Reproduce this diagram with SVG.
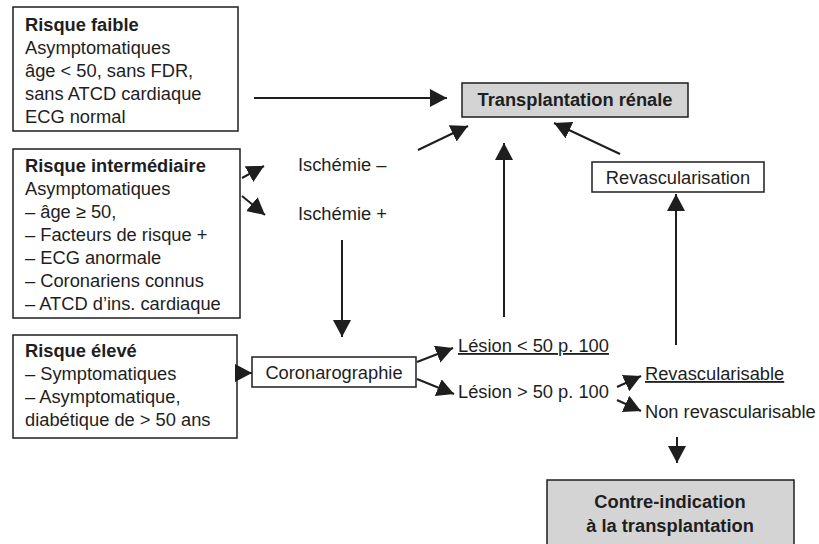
<svg xmlns="http://www.w3.org/2000/svg" width="819" height="544" viewBox="0 0 819 544">
<defs>
<style>
text{font-family:"Liberation Sans",Arial,sans-serif;font-size:18.3px;fill:#1e1e1e}
.b{font-weight:bold}
.c{text-anchor:middle}
.u{text-decoration:underline}
.box{fill:#fff;stroke:#1e1e1e;stroke-width:1.5}
.grey{fill:#d4d4d4;stroke:#1e1e1e;stroke-width:1.5}
.ln{stroke:#1e1e1e;stroke-width:2;fill:none;marker-end:url(#ah)}
</style>
<marker id="ah" markerUnits="userSpaceOnUse" markerWidth="18" markerHeight="19" refX="17" refY="9" orient="auto">
<path d="M0,0 L17,9 L0,18 z" fill="#1e1e1e"/>
</marker>
</defs>
<rect width="819" height="544" fill="#fff"/>
<g id="risque-faible">
<rect class="box" x="13" y="7" width="225" height="124"/>
<text x="25" y="31" class="b">Risque faible</text>
<text x="25" y="54">Asymptomatiques</text>
<text x="25" y="77">âge &lt; 50, sans FDR,</text>
<text x="25" y="100">sans ATCD cardiaque</text>
<text x="25" y="123">ECG normal</text>
</g>
<g id="risque-intermediaire">
<rect class="box" x="13" y="149" width="227" height="169"/>
<text x="25" y="172" class="b">Risque intermédiaire</text>
<text x="25" y="195">Asymptomatiques</text>
<text x="25" y="218">– âge ≥ 50,</text>
<text x="25" y="241">– Facteurs de risque +</text>
<text x="25" y="264">– ECG anormale</text>
<text x="25" y="287">– Coronariens connus</text>
<text x="25" y="310">– ATCD d’ins. cardiaque</text>
</g>
<g id="risque-eleve">
<rect class="box" x="13" y="335" width="224" height="103"/>
<text x="25" y="357" class="b">Risque élevé</text>
<text x="25" y="380">– Symptomatiques</text>
<text x="25" y="403">– Asymptomatique,</text>
<text x="25" y="426">diabétique de &gt; 50 ans</text>
</g>
<g id="transplantation">
<rect class="grey" x="462" y="83" width="226" height="34"/>
<text x="575" y="106" class="b c">Transplantation rénale</text>
</g>
<g id="ischemie-moins"><text x="298" y="171">Ischémie –</text></g>
<g id="ischemie-plus"><text x="298" y="220">Ischémie +</text></g>
<g id="revascularisation">
<rect class="box" x="592" y="162" width="172" height="30"/>
<text x="678" y="184" class="c">Revascularisation</text>
</g>
<g id="coronarographie">
<rect class="box" x="252" y="357" width="164" height="30"/>
<text x="334" y="379" class="c">Coronarographie</text>
</g>
<g id="lesion-inf"><text x="458" y="352" class="u">Lésion &lt; 50 p. 100</text></g>
<g id="lesion-sup"><text x="458" y="398">Lésion &gt; 50 p. 100</text></g>
<g id="revascularisable"><text x="645" y="380" class="u">Revascularisable</text></g>
<g id="non-revascularisable"><text x="645" y="418">Non revascularisable</text></g>
<g id="contre-indication">
<rect class="grey" x="547" y="480" width="247" height="70"/>
<text x="670" y="508" class="b c">Contre-indication</text>
<text x="670" y="532" class="b c">à la transplantation</text>
</g>
<g id="connectors">
<line class="ln" x1="254" y1="98" x2="447" y2="98"/>
<line class="ln" x1="242" y1="178" x2="264" y2="166"/>
<line class="ln" x1="242" y1="196" x2="265" y2="215"/>
<line class="ln" x1="418" y1="150" x2="468" y2="126"/>
<line class="ln" x1="620" y1="154" x2="554" y2="123"/>
<line class="ln" x1="504" y1="317" x2="504" y2="143"/>
<line class="ln" x1="676" y1="345" x2="676" y2="194"/>
<line class="ln" x1="342" y1="240" x2="342" y2="337"/>
<line class="ln" x1="237" y1="373" x2="252" y2="373"/>
<line class="ln" x1="417" y1="362" x2="453" y2="348"/>
<line class="ln" x1="417" y1="379" x2="454" y2="394"/>
<line class="ln" x1="617" y1="387" x2="641" y2="376"/>
<line class="ln" x1="617" y1="400" x2="641" y2="411"/>
<line class="ln" x1="677" y1="437" x2="677" y2="463"/>
</g>
</svg>
